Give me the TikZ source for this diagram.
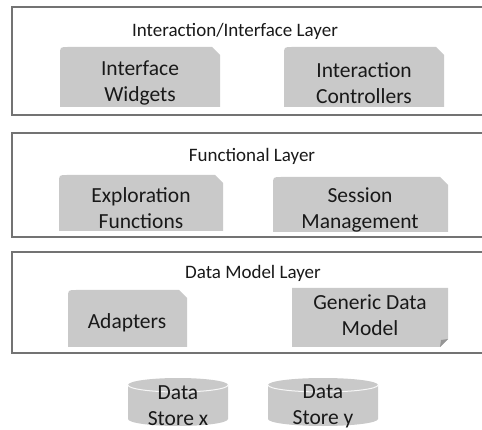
\documentclass[tikz,border=0pt]{standalone}
\usepackage{fontspec}
\setmainfont{Carlito}
\definecolor{boxgray}{RGB}{201,201,201}
\definecolor{foldgray}{RGB}{150,150,150}
\definecolor{linegray}{RGB}{115,115,115}
\definecolor{txt}{RGB}{25,25,25}
\newcommand\snipbox[4]{%
  \fill[boxgray] (#1,#4) -- (#1,{#2+8}) .. controls (#1,#2) .. ({#1+8},#2)
    -- ({#3-8},#2) -- (#3,{#2+8}) -- (#3,#4) -- cycle;}
\newcommand\storecyl[4]{% cx, rx, ytop, ybottom
  \fill[boxgray] ({#1-#2},#3) -- ({#1-#2},#4)
    arc[start angle=180, end angle=0, x radius=#2, y radius=7]
    -- ({#1+#2},#3)
    arc[start angle=0, end angle=-180, x radius=#2, y radius=7] -- cycle;
  \draw[white!85!boxgray, line width=1pt] ({#1-#2},#3)
    arc[start angle=180, end angle=0, x radius=#2, y radius=7];}
\begin{document}
\begin{tikzpicture}[x=1pt,y=-1pt,
  layerbox/.style={draw=linegray, line width=1.6pt},
  title/.style={font=\fontsize{19}{22}\selectfont, text=txt, inner sep=0pt},
  lbl/.style={font=\fontsize{21.5}{26}\selectfont, align=center, text=txt, inner sep=0pt}]
\useasboundingbox (0,0) rectangle (482,430);
\clip (0,0) rectangle (482,430);
% layers
\draw[layerbox] (12,7) rectangle (520,115);
\draw[layerbox] (12,133) rectangle (520,237);
\draw[layerbox] (12,252) rectangle (520,353);
\node[title] (t1) at (235,31) {Interaction/Interface Layer};
\node[title] (t2) at (252,156) {Functional Layer};
\node[title] (t3) at (253,273) {Data Model Layer};
% layer 1 boxes
\snipbox{60}{47}{220}{107}
\snipbox{284}{47}{444}{107}
\node[lbl] (iw) at (140,83) {Interface\\Widgets};
\node[lbl] (ic) at (364,83) {Interaction\\Controllers};
% layer 2 boxes
\snipbox{59}{175}{223}{231}
\snipbox{273}{177}{448}{232}
\node[lbl] (ef) at (141,208) {Exploration\\Functions};
\node[lbl] (sm) at (360,210) {Session\\Management};
% layer 3 boxes
\snipbox{68}{290}{187}{347}
\node[lbl] (ad) at (127,323) {Adapters};
\fill[boxgray] (292,288) -- (448,288) -- (448,339) -- (440,347) -- (292,347) -- cycle;
\fill[foldgray] (448,339) -- (440,347) -- (441,340) -- cycle;
\node[lbl] (gd) at (370,315.5) {Generic Data\\Model};
% data stores
\storecyl{178}{50}{385}{419}
\storecyl{323}{55}{385}{419}
\node[lbl] (dx) at (178,406) {Data\\Store x};
\node[lbl] (dy) at (323,406) {Data\\Store y};
\end{tikzpicture}
\end{document}
